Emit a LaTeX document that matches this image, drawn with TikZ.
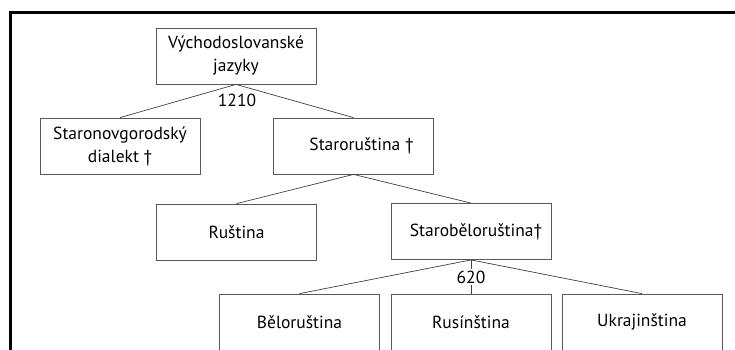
\documentclass[tikz,border=0pt]{standalone}
\usepackage{fontspec}
\setmainfont{PT Sans}
\begin{document}
\begin{tikzpicture}[x=1pt,y=-1pt,
  box/.style={draw=black!65, line width=0.8pt, minimum width=160pt, minimum height=56pt,
    inner sep=0pt, align=center, font=\fontsize{17.5}{23}\selectfont},
  conn/.style={draw=black!75, line width=0.7pt},
  yr/.style={inner sep=1pt, font=\fontsize{17.5}{20}\selectfont}]
\useasboundingbox (0,0) rectangle (735,349);
\fill[white] (0,0) rectangle (735,349);
\draw[line width=3pt] (10,360) -- (10,12.5) -- (745,12.5);
\node[box] (V) at (236,56) {Východoslovanské\\jazyky};
\node[box] (N) at (120,146) {Staronovgorodský\\dialekt †};
\node[box] (S) at (353.5,146) {\hspace*{16pt}Staroruština †};
\node[box] (R) at (236.5,232) {Ruština};
\node[box] (B) at (471,231.5) {\hspace*{10pt}Staroběloruština†};
\node[box] (BE) at (299.5,322) {Běloruština};
\node[box] (RU) at (471,322) {Rusínština};
\node[box] (UK) at (642,322) {Ukrajinština};
\node[yr] (y1) at (237,100) {1210};
\node[yr] (y2) at (471,277) {620};
\draw[conn] (V.south) -- (N.north);
\draw[conn] (V.south) -- (S.north);
\draw[conn] (S.south) -- (R.north);
\draw[conn] (S.south) -- (B.north);
\draw[conn] (B.south) -- (BE.north);
\draw[conn] (B.south) -- (y2.north);
\draw[conn] (y2.south) -- (RU.north);
\draw[conn] (B.south) -- (UK.north);
\end{tikzpicture}
\end{document}
